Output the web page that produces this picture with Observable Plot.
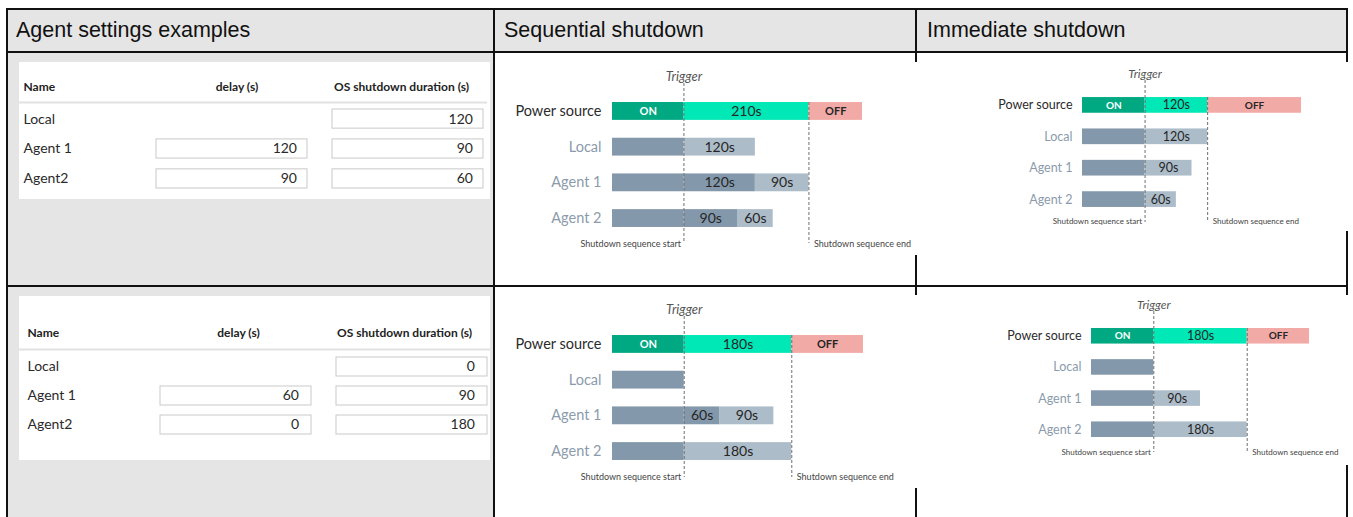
<!DOCTYPE html>
<html>
<head>
<meta charset="utf-8">
<script src="https://cdn.jsdelivr.net/npm/d3@7"></script>
<script src="https://cdn.jsdelivr.net/npm/@observablehq/plot@0.6"></script>
<style>
  html, body { margin: 0; padding: 0; background: #ffffff; }
  body { width: 1353px; height: 517px; position: relative; overflow: hidden; font-family: Lato, sans-serif; }
  .abs { position: absolute; }
  .line { position: absolute; background: #111; }
  .title { position: absolute; font-family: "Liberation Sans", Arial, sans-serif; font-size: 21.5px; color: #111; top: 10px; height: 41px; line-height: 41px; }
  .abs svg { display: block; max-width: none; }
</style>
</head>
<body>
<script>
// ---------- data ----------
const columnTitles = ["Agent settings examples", "Sequential shutdown", "Immediate shutdown"];
const settingColumns = ["delay (s)", "OS shutdown duration (s)"];
const agentNames = ["Local", "Agent 1", "Agent2"];
const chartRows = ["Power source", "Local", "Agent 1", "Agent 2"];
const example1Delay = [null, 120, 90];
const example1Duration = [120, 90, 60];
const example2Delay = [null, 60, 0];
const example2Duration = [0, 90, 180];
const preTriggerSeconds = 120;
const timelineEndSeconds = 300;
const segmentKinds = ["on", "run", "off", "pre", "delay", "dur"];
const segmentColors = ["#01a982", "#00e8b6", "#f2aaa6", "#8498ab", "#8498ab", "#adbcc9"];

// ---------- page frame ----------
function box(cls, left, top, width, height, bg) {
  const d = document.createElement("div");
  d.className = cls;
  Object.assign(d.style, {left: left + "px", top: top + "px", width: width + "px", height: height + "px"});
  if (bg) d.style.background = bg;
  document.body.appendChild(d);
  return d;
}
box("abs", 7, 9, 1340, 43, "#e5e5e5");     // header band
box("abs", 7, 52, 487, 465, "#e5e5e5");    // settings column

const titleLeft = [16, 504, 927];
columnTitles.forEach((t, i) => {
  const d = box("title", titleLeft[i], 10, 400, 41);
  d.textContent = t;
});

function place(node, left, top) {
  const d = document.createElement("div");
  d.className = "abs";
  d.style.left = left + "px";
  d.style.top = top + "px";
  d.appendChild(node);
  document.body.appendChild(d);
}

// ---------- settings tables ----------
function settingsTable(delays, durations, g) {
  const cells = [];
  agentNames.forEach((name, i) => {
    if (delays[i] !== null) cells.push({name, col: settingColumns[0], value: String(delays[i])});
    cells.push({name, col: settingColumns[1], value: String(durations[i])});
  });
  const head = {frameAnchor: "top", lineAnchor: "middle", fontWeight: "bold", fontSize: 12, fill: "#222"};
  return Plot.plot({
    width: g.width, height: g.height,
    marginTop: g.headerY, marginLeft: g.left, marginRight: g.right, marginBottom: 0,
    style: {background: "white", fontFamily: "Lato, sans-serif", overflow: "visible"},
    x: {domain: settingColumns, range: g.xRange, paddingInner: 0.142, paddingOuter: 0, round: false, axis: null},
    y: {domain: agentNames, range: g.yRange, paddingInner: g.pad, paddingOuter: 0, round: false, axis: null},
    marks: [
      Plot.text(["Name"], {...head, text: d => d, frameAnchor: "top-left", textAnchor: "start"}),
      Plot.text([settingColumns[0]], {...head, x: d => d, text: d => d, dx: g.headDx[0]}),
      Plot.text([settingColumns[1]], {...head, x: d => d, text: d => d, dx: g.headDx[1]}),
      Plot.ruleY([agentNames[0]], {dy: g.ruleDy, insetLeft: -g.left, insetRight: -3, stroke: "#e2e2e2", strokeWidth: 2}),
      Plot.text(agentNames, {y: d => d, text: d => d, frameAnchor: "left", textAnchor: "start", fontSize: 14, fill: "#2a2a2a"}),
      Plot.cell(cells, {x: "col", y: "name", fill: "white", stroke: "#c9c9c9", inset: 0}),
      Plot.text(cells, {x: "col", y: "name", text: "value", textAnchor: "end", dx: g.numDx, fontSize: 14, fill: "#2a2a2a"})
    ]
  });
}

place(settingsTable(example1Delay, example1Duration, {
  width: 471, height: 137, headerY: 25, left: 4, right: 6,
  xRange: [137, 464], yRange: [47, 126], pad: 0.36, ruleDy: -16.5, numDx: 65, headDx: [5, -6.5]
}), 19, 62);
place(settingsTable(example2Delay, example2Duration, {
  width: 471, height: 164, headerY: 37, left: 8, right: 3,
  xRange: [141, 468], yRange: [61, 138], pad: 0.345, ruleDy: -17.5, numDx: 63, headDx: [2.5, -7.5]
}), 19, 296);

// ---------- shutdown timelines ----------
function timeline(delays, durations, sequential, g) {
  const delayOf = i => sequential ? (delays[i] || 0) : 0;
  const total = Math.max(...durations.map((d, i) => delayOf(i) + d));
  const segs = [
    {row: chartRows[0], x1: -preTriggerSeconds, x2: 0, kind: "on", label: "ON"},
    {row: chartRows[0], x1: 0, x2: total, kind: "run", label: total + "s"},
    {row: chartRows[0], x1: total, x2: timelineEndSeconds, kind: "off", label: "OFF"}
  ];
  durations.forEach((d, i) => {
    const row = chartRows[i + 1];
    const delay = delayOf(i);
    segs.push({row, x1: -preTriggerSeconds, x2: 0, kind: "pre", label: ""});
    if (delay > 0) segs.push({row, x1: 0, x2: delay, kind: "delay", label: delay + "s"});
    if (d > 0) segs.push({row, x1: delay, x2: delay + d, kind: "dur", label: d + "s"});
  });
  const bold = segs.filter(s => s.kind === "on" || s.kind === "off");
  const plain = segs.filter(s => s.label && !(s.kind === "on" || s.kind === "off"));
  const dash = {stroke: "#6f6f6f", strokeDasharray: "3,2", strokeWidth: 1};
  const note = {frameAnchor: "top", lineAnchor: "middle"};
  return Plot.plot({
    width: g.width, height: g.height,
    marginTop: 0, marginBottom: 0, marginLeft: 0, marginRight: 0,
    style: {background: "white", fontFamily: "Lato, sans-serif", overflow: "visible"},
    x: {domain: [-preTriggerSeconds, timelineEndSeconds], range: g.xRange, axis: null},
    y: {domain: chartRows, range: g.yRange, paddingInner: 0.5, paddingOuter: 0.25, round: false, axis: null},
    color: {domain: segmentKinds, range: segmentColors},
    marks: [
      Plot.barX(segs, {x1: "x1", x2: "x2", y: "row", fill: "kind"}),
      Plot.text(plain, {x: d => (d.x1 + d.x2) / 2, y: "row", text: "label", fill: "#262626", fontSize: g.fsBar}),
      Plot.text(bold, {x: d => (d.x1 + d.x2) / 2, y: "row", text: "label", fill: d => d.kind === "on" ? "white" : "#262626", fontWeight: "bold", fontSize: g.fsOn}),
      Plot.text(chartRows, {x: -preTriggerSeconds, y: d => d, text: d => d, textAnchor: "end", dx: g.labelDx,
        fill: d => d === chartRows[0] ? "#2b2b2b" : "#8b9bab", fontSize: g.fsLabel}),
      Plot.ruleX([0], {...dash, insetTop: g.trigTop, insetBottom: g.height - g.lineEnd}),
      Plot.ruleX([total], {...dash, insetTop: g.endTop, insetBottom: g.height - g.lineEnd}),
      Plot.text(["Trigger"], {...note, x: 0, text: d => d, dy: g.trigY, fontStyle: "italic", fontSize: g.fsTrig, fill: "#555"}),
      Plot.text(["Shutdown sequence start"], {...note, x: 0, text: d => d, dy: g.bottomY, dx: -3, textAnchor: "end", fontSize: g.fsSmall, fill: "#444"}),
      Plot.text(["Shutdown sequence end"], {...note, x: total, text: d => d, dy: g.bottomY, dx: 5, textAnchor: "start", fontSize: g.fsSmall, fill: "#444"})
    ]
  });
}

const bigFonts = {fsBar: 14, fsOn: 11, fsLabel: 14.5, fsTrig: 13, fsSmall: 9, labelDx: -11};
const smallFonts = {fsBar: 12.5, fsOn: 10, fsLabel: 12.5, fsTrig: 12, fsSmall: 8, labelDx: -10};

place(timeline(example1Delay, example1Duration, true, {
  ...bigFonts, width: 422, height: 193, xRange: [117, 367], yRange: [31.1, 173.9],
  trigY: 14, trigTop: 21, endTop: 40, lineEnd: 181, bottomY: 182
}), 495, 62);
place(timeline(example1Delay, example1Duration, false, {
  ...smallFonts, width: 436, height: 169, xRange: [169, 388], yRange: [27.2, 152.8],
  trigY: 12, trigTop: 18, endTop: 35, lineEnd: 160, bottomY: 159
}), 913, 62);
place(timeline(example2Delay, example2Duration, true, {
  ...bigFonts, width: 422, height: 193, xRange: [117, 368], yRange: [31.1, 173.9],
  trigY: 14, trigTop: 21, endTop: 40, lineEnd: 182, bottomY: 182
}), 495, 295);
place(timeline(example2Delay, example2Duration, false, {
  ...smallFonts, width: 436, height: 170, xRange: [178, 396], yRange: [25.2, 149.8],
  trigY: 10, trigTop: 16, endTop: 33, lineEnd: 157, bottomY: 157
}), 913, 295);

// ---------- grid lines (drawn last, charts hide parts of them as in the original) ----------
const lines = [
  [6, 8, 1342, 2],      // top
  [6, 51, 1342, 2],     // header bottom
  [6, 285, 1342, 2],    // row divider
  [6, 8, 2, 509],       // left
  [493, 8, 2, 509]      // col 1 | col 2
];
lines.forEach(([l, t, w, h]) => box("line", l, t, w, h));
// col 2 | col 3 and right edge: only visible where the charts do not cover them
[[915, 8, 2, 54], [915, 255, 2, 40], [915, 488, 2, 29],
 [1346, 8, 2, 54], [1346, 231, 2, 64], [1346, 465, 2, 52]].forEach(([l, t, w, h]) => box("line", l, t, w, h));
</script>
</body>
</html>
